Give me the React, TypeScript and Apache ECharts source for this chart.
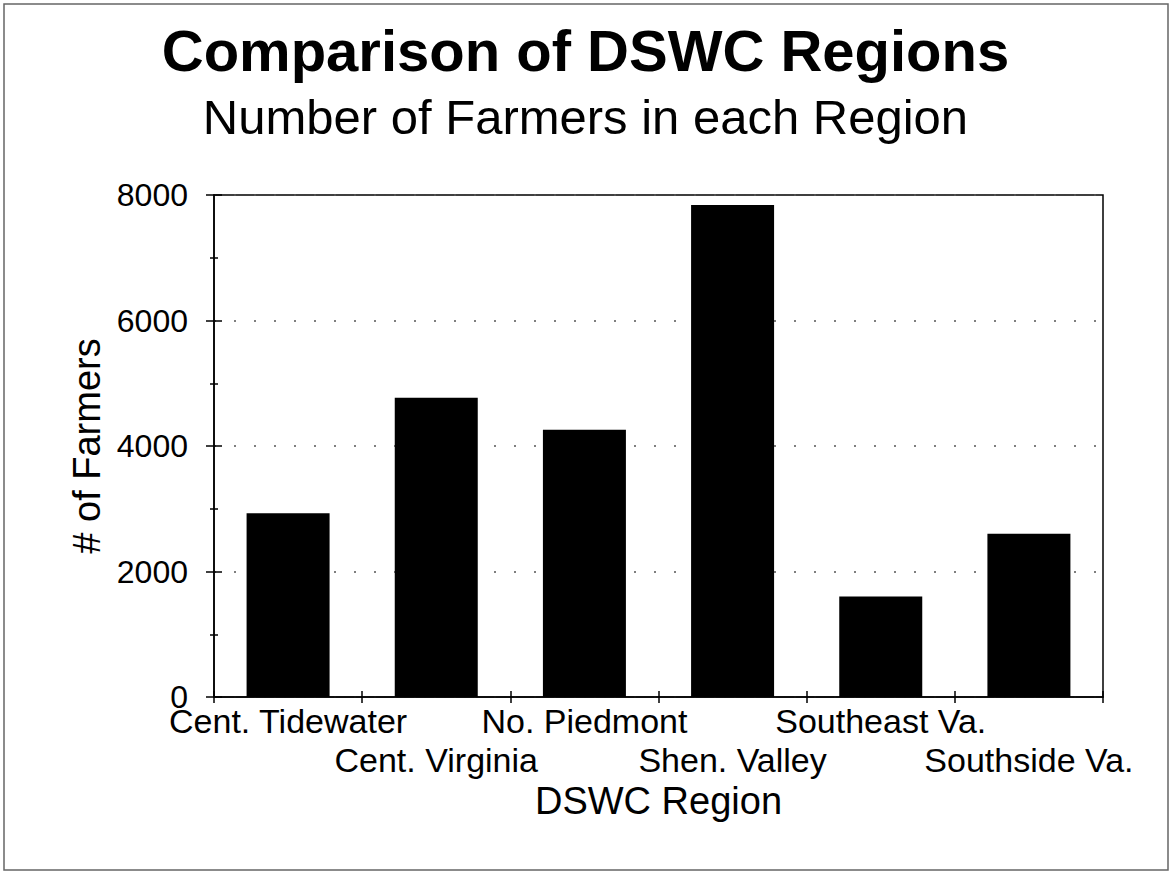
import React, { useEffect, useRef } from "react";
import * as echarts from "echarts";

const categories = ["Cent. Tidewater", "Cent. Virginia", "No. Piedmont", "Shen. Valley", "Southeast Va.", "Southside Va."];
const farmers = [2930, 4770, 4260, 7840, 1600, 2600];
const titleText = "Comparison of DSWC Regions";
const subtitleText = "Number of Farmers in each Region";
const xAxisTitle = "DSWC Region";
const yAxisTitle = "# of Farmers";

const FONT = '"Liberation Sans", Arial, Helvetica, sans-serif';

export default function App() {
  const ref = useRef<HTMLDivElement>(null);
  useEffect(() => {
    if (!ref.current) return;
    const chart = echarts.init(ref.current, null, { renderer: "svg" });
    const yCommon = {
      type: "value" as const,
      min: 0,
      max: 8000,
      interval: 2000,
      position: "left" as const,
    };
    const xCommon = {
      type: "category" as const,
      data: categories,
      boundaryGap: true,
      position: "bottom" as const,
    };
    chart.setOption({
      animation: false,
      backgroundColor: "#fff",
      textStyle: { fontFamily: FONT, color: "#000" },
      title: [
        {
          text: titleText,
          left: "center",
          top: 16,
          textStyle: { fontFamily: FONT, fontSize: 58, fontWeight: "bold", color: "#000" },
        },
        {
          text: subtitleText,
          left: "center",
          top: 87,
          textStyle: { fontFamily: FONT, fontSize: 49, fontWeight: "normal", color: "#000" },
        },
      ],
      graphic: [
        {
          type: "rect",
          shape: { x: 4, y: 4, width: 1164, height: 866 },
          style: { fill: "none", stroke: "#666", lineWidth: 1.5 },
          silent: true,
        },
      ],
      grid: {
        left: 214,
        right: 68,
        top: 195,
        bottom: 176,
        show: true,
        borderColor: "#000",
        borderWidth: 1.5,
        backgroundColor: "transparent",
      },
      xAxis: [
        {
          ...xCommon,
          name: xAxisTitle,
          nameLocation: "middle",
          nameGap: 80,
          nameTextStyle: { fontFamily: FONT, fontSize: 38, color: "#000" },
          axisLine: { show: true, lineStyle: { color: "#000", width: 1.5 } },
          axisTick: { show: true, alignWithLabel: false, length: 6, lineStyle: { color: "#000", width: 1.5 } },
          axisLabel: {
            interval: 0,
            margin: 12,
            fontFamily: FONT,
            fontSize: 34,
            color: "#000",
            lineHeight: 34,
            formatter: (v: string, i: number) => (i % 2 === 1 ? "\n{b|" + v + "}" : "{a|" + v + "}"),
            rich: {
              a: { fontFamily: FONT, fontSize: 34, color: "#000", lineHeight: 24 },
              b: { fontFamily: FONT, fontSize: 34, color: "#000", lineHeight: 34 },
            },
          },
          splitLine: { show: false },
        },
        {
          ...xCommon,
          axisLine: { show: false },
          axisTick: { show: true, inside: true, alignWithLabel: false, length: 6, lineStyle: { color: "#000", width: 1.5 } },
          axisLabel: { show: false },
          splitLine: { show: false },
        },
      ],
      yAxis: [
        {
          ...yCommon,
          name: yAxisTitle,
          nameLocation: "middle",
          nameGap: 103,
          nameTextStyle: { fontFamily: FONT, fontSize: 38, color: "#000" },
          axisLine: { show: true, lineStyle: { color: "#000", width: 1.5 } },
          axisTick: { show: true, length: 8, lineStyle: { color: "#000", width: 1.5 } },
          minorTick: { show: true, splitNumber: 2, length: 4, lineStyle: { color: "#000", width: 1.5 } },
          axisLabel: {
            margin: 26,
            fontFamily: FONT,
            fontSize: 32,
            lineHeight: 24,
            color: "#000",
            formatter: (v: number) => String(v),
          },
          splitLine: { show: true, lineStyle: { color: "#555", width: 1.5, type: [2, 18] } },
        },
        {
          ...yCommon,
          axisLine: { show: false },
          axisTick: { show: true, inside: true, length: 8, lineStyle: { color: "#000", width: 1.5 } },
          minorTick: { show: true, splitNumber: 2, length: 4, lineStyle: { color: "#000", width: 1.5 } },
          axisLabel: { show: false },
          splitLine: { show: false },
        },
      ],
      series: [
        {
          type: "bar",
          data: farmers,
          xAxisIndex: 0,
          yAxisIndex: 0,
          barWidth: 83,
          itemStyle: { color: "#000" },
          silent: true,
        },
      ],
    });
    return () => chart.dispose();
  }, []);
  return (
    <div
      ref={ref}
      style={{ position: "absolute", left: 0, top: 0, width: 1171, height: 873 }}
    />
  );
}
